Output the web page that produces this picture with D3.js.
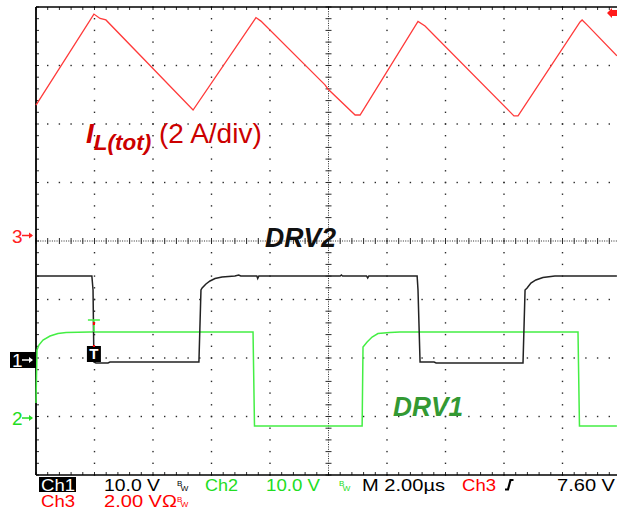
<!DOCTYPE html>
<html><head><meta charset="utf-8">
<script src="https://cdn.jsdelivr.net/npm/d3@7"></script>
<style>html,body{margin:0;padding:0;background:#fff;}svg{display:block;}</style>
</head><body>
<script>
// ---- data (time in µs, values in channel units) ----
const ch3Time = [0, 1.98, 2.19, 2.39, 5.37, 7.52, 7.69, 9.88, 9.98, 10.91, 11.08, 13.06, 13.30, 16.34, 16.48, 18.60, 18.67, 18.84, 19.86];
const ch3Amps = [4.46, 7.57, 7.42, 7.37, 4.29, 7.45, 7.33, 5.15, 5.01, 4.12, 4.12, 7.32, 7.16, 4.09, 4.09, 7.30, 7.37, 7.20, 6.14];

const ch1Time = [0, 1.91, 1.95, 1.98, 2.05, 2.46, 2.53, 5.57, 5.64, 5.68, 5.81, 5.95, 6.12, 6.36, 6.80, 6.93, 7.00, 7.55, 7.58, 7.62, 10.40, 10.44, 10.48, 11.30, 11.34, 11.38, 13.03, 13.06, 13.13, 13.61, 13.68, 16.65, 16.72, 16.79, 16.92, 17.09, 17.33, 17.74, 19.86];
const ch1Volts = [14.36, 14.36, 11.97, -0.34, -0.51, -0.51, -0.34, -0.34, 11.97, 12.31, 12.99, 13.50, 13.93, 14.19, 14.36, 14.53, 14.36, 14.36, 13.93, 14.36, 14.36, 14.53, 14.36, 14.36, 14.02, 14.36, 14.36, 11.97, -0.34, -0.34, -0.51, -0.51, 11.97, 12.31, 13.16, 13.68, 14.10, 14.36, 14.36];

const ch2Time = [0, 0.034, 0.10, 0.24, 0.48, 0.75, 1.03, 1.85, 7.42, 7.47, 11.15, 11.18, 11.32, 11.49, 11.69, 12.10, 12.44, 18.53, 18.58, 19.86];
const ch2Volts = [2.56, 11.62, 12.48, 13.33, 14.02, 14.44, 14.62, 14.70, 14.70, -1.37, -1.37, 12.14, 12.99, 13.85, 14.44, 14.62, 14.70, 14.70, -1.37, -1.37];

// channel settings: units per division, marker position (divisions from centre)
const chScale = {ch1: 10, ch2: 10, ch3: 2};
const chOffset = {ch1: -2.034, ch2: -3.026, ch3: 0.094};

const timeDomain = [0, 20];   // 2 µs/div, 10 div
const divDomain = [-4, 4];    // 8 vertical divisions

const statusRow1 = [
  {t: "10.0 V", c: "#000", x: 104, w: 56},
  {t: "Ch2", c: "#22dd22", x: 205, w: 33},
  {t: "10.0 V", c: "#22dd22", x: 266, w: 54},
  {t: "M 2.00µs", c: "#000", x: 362, w: 83},
  {t: "Ch3", c: "#ff0000", x: 462, w: 34},
  {t: "7.60 V", c: "#000", x: 557, w: 58}
];
const statusRow2 = [
  {t: "Ch3", c: "#ff0000", x: 41, w: 34},
  {t: "2.00 VΩ", c: "#ff0000", x: 104, w: 73}
];

// ---- drawing ----
const W = 617, H = 515;
const svg = d3.select("body").append("svg").attr("width", W).attr("height", H)
  .style("font-family", "'Liberation Sans', Arial, sans-serif");

const x = d3.scaleLinear().domain(timeDomain).range([36, 621]);
const yd = d3.scaleLinear().domain(divDomain).range([475, 7]);
const chY = (ch) => (v) => yd(chOffset[ch] + v / chScale[ch]);

const gGrid = svg.append("g");
const dot = "#2a2a2a";
const majorX = d3.range(0, 21, 2);
const majorY = d3.range(-4, 5, 1);
const minorX = d3.range(0, 51).map(i => i * 0.4);
const minorY = d3.range(-20, 21).map(i => i / 5);
// dotted grid lines
majorX.filter(v => v !== 10 && v !== 0).forEach(v => {
  minorY.forEach(m => gGrid.append("rect").attr("x", x(v) - 0.7).attr("y", yd(m) - 0.7).attr("width", 1.4).attr("height", 1.4).attr("fill", dot));
});
majorY.filter(v => v !== 0 && v !== 4 && v !== -4).forEach(v => {
  minorX.forEach(m => gGrid.append("rect").attr("x", x(m) - 0.7).attr("y", yd(v) - 0.7).attr("width", 1.4).attr("height", 1.4).attr("fill", dot));
});
// centre lines: dense dots + crossing ticks
d3.range(0, 251).forEach(i => {
  const t = i * 0.08;
  gGrid.append("rect").attr("x", x(t) - 0.5).attr("y", yd(0) - 0.5).attr("width", 1).attr("height", 1).attr("fill", dot);
});
d3.range(-100, 101).forEach(i => {
  const d = i * 0.04;
  gGrid.append("rect").attr("x", x(10) - 0.5).attr("y", yd(d) - 0.5).attr("width", 1).attr("height", 1).attr("fill", dot);
});
minorX.forEach(m => gGrid.append("line").attr("x1", x(m)).attr("x2", x(m)).attr("y1", yd(0) - 3).attr("y2", yd(0) + 3).attr("stroke", dot).attr("stroke-width", 1));
minorY.forEach(m => gGrid.append("line").attr("x1", x(10) - 3).attr("x2", x(10) + 3).attr("y1", yd(m)).attr("y2", yd(m)).attr("stroke", dot).attr("stroke-width", 1));
// border ticks
minorY.forEach(m => gGrid.append("line").attr("x1", x(0)).attr("x2", x(0) + 3).attr("y1", yd(m)).attr("y2", yd(m)).attr("stroke", dot));
minorX.forEach(m => {
  gGrid.append("line").attr("x1", x(m)).attr("x2", x(m)).attr("y1", yd(4)).attr("y2", yd(4) + 3).attr("stroke", dot);
  gGrid.append("line").attr("x1", x(m)).attr("x2", x(m)).attr("y1", yd(-4) - 3).attr("y2", yd(-4)).attr("stroke", dot);
});
// border
gGrid.append("line").attr("x1", x(0)).attr("x2", W).attr("y1", yd(4)).attr("y2", yd(4)).attr("stroke", "#000").attr("stroke-width", 1.6);
gGrid.append("line").attr("x1", x(0)).attr("x2", W).attr("y1", yd(-4)).attr("y2", yd(-4)).attr("stroke", "#000").attr("stroke-width", 1.6);
gGrid.append("line").attr("x1", x(0)).attr("x2", x(0)).attr("y1", yd(4)).attr("y2", yd(-4)).attr("stroke", "#000").attr("stroke-width", 1.8);

// traces
const mk = (times, vals, ch) => d3.line().x((d, i) => x(times[i])).y(d => chY(ch)(d))(vals);
svg.append("path").attr("d", mk(ch3Time, ch3Amps, "ch3")).attr("fill", "none").attr("stroke", "#ff3a3a").attr("stroke-width", 1.3);
svg.append("path").attr("d", mk(ch2Time, ch2Volts, "ch2")).attr("fill", "none").attr("stroke", "#44ee44").attr("stroke-width", 1.5);
svg.append("path").attr("d", mk(ch1Time, ch1Volts, "ch1")).attr("fill", "none").attr("stroke", "#222").attr("stroke-width", 1.5);

// channel markers
function arrow(g, y, color) {
  g.append("line").attr("x1", 22).attr("x2", 32).attr("y1", y).attr("y2", y).attr("stroke", color).attr("stroke-width", 1.5);
  g.append("path").attr("d", `M33,${y} L29,${y - 3} L29,${y + 3} Z`).attr("fill", color);
}
const gm = svg.append("g");
const y3 = yd(chOffset.ch3), y1 = yd(chOffset.ch1), y2 = yd(chOffset.ch2);
gm.append("text").attr("x", 12).attr("y", y3 + 7).attr("font-size", 19).attr("fill", "#ff2020").text("3");
arrow(gm, y3, "#ff2020");
gm.append("rect").attr("x", 10).attr("y", y1 - 8).attr("width", 26).attr("height", 16).attr("fill", "#000");
gm.append("text").attr("x", 12).attr("y", y1 + 7).attr("font-size", 19).attr("fill", "#fff").text("1");
arrow(gm, y1, "#fff");
gm.append("text").attr("x", 12).attr("y", y2 + 7).attr("font-size", 19).attr("fill", "#22dd22").text("2");
arrow(gm, y2, "#22dd22");

// trigger markers
const tx = x(1.98);
gm.append("line").attr("x1", tx - 6).attr("x2", tx + 6).attr("y1", 320).attr("y2", 320).attr("stroke", "#44ee44").attr("stroke-width", 1.5);
gm.append("line").attr("x1", tx).attr("x2", tx).attr("y1", 320).attr("y2", 332).attr("stroke", "#44ee44").attr("stroke-width", 1.5);
gm.append("rect").attr("x", tx - 1).attr("y", 322).attr("width", 2).attr("height", 3).attr("fill", "#ff0000");
gm.append("rect").attr("x", tx - 7).attr("y", 346).attr("width", 14).attr("height", 16).attr("fill", "#000");
gm.append("text").attr("x", tx).attr("y", 359).attr("text-anchor", "middle").attr("font-size", 15).attr("font-weight", "bold").attr("fill", "#fff").text("T");
gm.append("rect").attr("x", tx - 1).attr("y", 345).attr("width", 2).attr("height", 2).attr("fill", "#ff0000");
gm.append("path").attr("d", "M607,13 L612,8 L612,10 L617,10 L617,16 L612,16 L612,18 Z").attr("fill", "#ff1a1a");

// annotations
const ga = svg.append("g").attr("font-style", "italic").attr("font-weight", "bold");
const il = ga.append("text").attr("x", 86).attr("y", 143).attr("fill", "#cc0000");
il.append("tspan").attr("font-size", 28).text("I");
il.append("tspan").attr("font-size", 22.5).attr("dy", 7).text("L(tot)");
svg.append("text").attr("x", 159).attr("y", 143).attr("font-size", 28).attr("fill", "#cc0000").text("(2 A/div)");
ga.append("text").attr("x", 265).attr("y", 247).attr("font-size", 27.5).attr("fill", "#111")
  .attr("textLength", 71).attr("lengthAdjust", "spacingAndGlyphs").text("DRV2");
ga.append("text").attr("x", 393).attr("y", 416).attr("font-size", 27.5).attr("fill", "#339933")
  .attr("textLength", 70).attr("lengthAdjust", "spacingAndGlyphs").text("DRV1");

// status bar
const gs = svg.append("g").attr("font-size", 16.5);
gs.append("rect").attr("x", 39).attr("y", 477).attr("width", 37).attr("height", 15).attr("fill", "#000");
gs.append("text").attr("x", 41).attr("y", 490.5).attr("fill", "#fff").attr("textLength", 34).attr("lengthAdjust", "spacingAndGlyphs").text("Ch1");
statusRow1.forEach(d => gs.append("text").attr("x", d.x).attr("y", 490.5).attr("fill", d.c)
  .attr("textLength", d.w).attr("lengthAdjust", "spacingAndGlyphs").text(d.t));
statusRow2.forEach(d => gs.append("text").attr("x", d.x).attr("y", 507).attr("fill", d.c)
  .attr("textLength", d.w).attr("lengthAdjust", "spacingAndGlyphs").text(d.t));
function bw(xp, yb, c) {
  const t = gs.append("text").attr("x", xp).attr("y", yb - 5).attr("font-size", 8).attr("fill", c);
  t.append("tspan").text("B");
  t.append("tspan").attr("dx", -1.5).attr("dy", 5).text("W");
}
bw(177, 491, "#000");
bw(339, 491, "#22dd22");
bw(177, 507, "#ff0000");
gs.append("path").attr("d", "M505,489.5 L508,489.5 L510.5,480 L513.5,480").attr("fill", "none").attr("stroke", "#000").attr("stroke-width", 2.2);
</script>
</body></html>
